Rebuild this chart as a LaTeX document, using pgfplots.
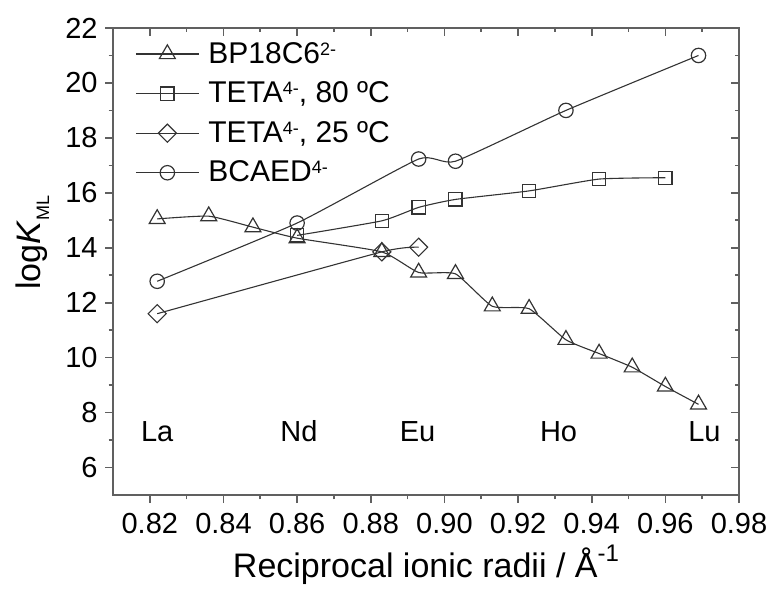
\documentclass[border=0pt]{standalone}
\usepackage{pgfplots}
\pgfplotsset{compat=1.18}
\usepackage{fontspec}
\setmainfont{Liberation Sans}

\definecolor{axgray}{HTML}{606060}
\definecolor{ln}{HTML}{333333}
\newcommand{\sups}[1]{\raisebox{4pt}{\fontsize{9}{9}\selectfont #1}}

\begin{document}
\begin{tikzpicture}
\pgfplotsset{
  frame/.style={
    width=313pt, height=233.5pt, scale only axis,
    xmin=0.81, xmax=0.98, ymin=5, ymax=22,
    xtick={0.82,0.84,0.86,0.88,0.90,0.92,0.94,0.96,0.98},
    ytick={6,8,10,12,14,16,18,20,22},
    minor x tick num=1, minor y tick num=1,
    axis line style={draw=axgray, line width=1.1pt},
    major tick length=4pt, minor tick length=2.2pt,
    every tick/.style={axgray, line width=0.8pt},
  },
  every axis plot/.append style={ln, line width=0.55pt, smooth, tension=0.3,
    mark options={fill=white, draw=black!80, line width=0.6pt, solid}},
  legend image code/.code={
    \path (0pt,0pt) (35pt,0pt);
    \draw[mark repeat=2, mark phase=2, #1] plot coordinates {(0pt,0pt)(15.75pt,0pt)(31.5pt,0pt)};},
}
\begin{axis}[frame,
    xtick pos=bottom, ytick pos=left, tick align=outside,
    /pgf/number format/assume math mode=true,
    tick label style={font=\fontsize{14.5}{15}\selectfont},
    yticklabel style={inner sep=3.5pt},
    xticklabel style={inner sep=3.5pt, yshift=-1.5pt,
      /pgf/number format/.cd, fixed, fixed zerofill, precision=2},
    xlabel={Reciprocal ionic radii / Å\raisebox{8pt}{\fontsize{12}{12}\selectfont -1}},
    ylabel={log\textit{K}\raisebox{-4.5pt}{\fontsize{9}{10}\selectfont ML}},
    label style={font=\fontsize{17}{19}\selectfont},
    xlabel style={at={(rel axis cs:0.5,0)}, anchor=base, yshift=-41pt},
    ylabel style={at={(rel axis cs:0,0.54)}, anchor=north, inner sep=0pt, yshift=49pt},
    legend style={at={(rel axis cs:0.035,0.975)}, anchor=north west, draw=none, fill=none,
      font=\fontsize{15}{16}\selectfont, row sep=5.8pt, inner sep=0pt,
      nodes={inner sep=1pt}},
    legend cell align=left]
  \addplot[mark=triangle, mark size=4.6pt] coordinates {
    (0.822,15.05)(0.836,15.15)(0.848,14.75)(0.860,14.35)(0.883,13.85)(0.893,13.1)(0.903,13.05)
    (0.913,11.87)(0.923,11.78)(0.933,10.65)(0.942,10.15)(0.951,9.65)(0.960,8.95)(0.969,8.3)};
  \addlegendentry{BP18C6\sups{2-}}
  \addplot[mark=square, mark size=3.3pt] coordinates {
    (0.860,14.45)(0.883,14.98)(0.893,15.47)(0.903,15.76)(0.923,16.07)(0.942,16.5)(0.960,16.55)};
  \addlegendentry{TETA\sups{4-}, 80 ºC}
  \addplot[mark=square, mark size=3.2pt, mark options={rotate=45}] coordinates {
    (0.822,11.6)(0.883,13.85)(0.893,14.02)};
  \addlegendentry{TETA\sups{4-}, 25 ºC}
  \addplot[mark=o, mark size=3.6pt] coordinates {
    (0.822,12.78)(0.860,14.9)(0.893,17.23)(0.903,17.15)(0.933,19.0)(0.969,21.0)};
  \addlegendentry{BCAED\sups{4-}}
  \begin{scope}[font=\fontsize{14.5}{16}\selectfont, every node/.style={anchor=base}]
    \node at (axis cs:0.822,6.95) {La};
    \node at (axis cs:0.8605,6.95) {Nd};
    \node at (axis cs:0.8927,6.95) {Eu};
    \node at (axis cs:0.931,6.95) {Ho};
    \node at (axis cs:0.9706,6.95) {Lu};
  \end{scope}
  \coordinate (ll) at (rel axis cs:0,0);
  \coordinate (ur) at (rel axis cs:1,1);
\end{axis}
\begin{axis}[frame, xtick pos=top, ytick pos=right, tick align=inside,
    xticklabels={}, yticklabels={}]
\end{axis}
\pgfresetboundingbox
\path ([shift={(-56.5pt,-48.5pt)}]ll) rectangle ([shift={(14.5pt,14pt)}]ur);
\end{tikzpicture}
\end{document}
